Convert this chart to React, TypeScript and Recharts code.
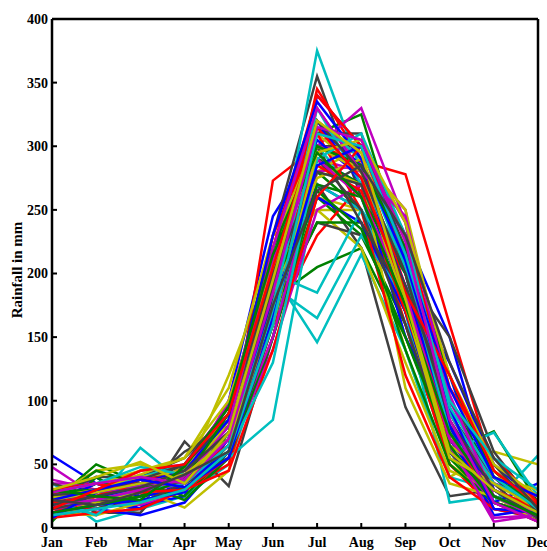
import { LineChart, Line, XAxis, YAxis } from "recharts";

const months = ["Jan", "Feb", "Mar", "Apr", "May", "Jun", "Jul", "Aug", "Sep", "Oct", "Nov", "Dec"];
const yTicks = [0, 50, 100, 150, 200, 250, 300, 350, 400];

// one row per year, grouped by the colour it got in the plot
const blueRuns = [
  [57, 35, 25, 30, 70, 180, 290, 270, 180, 70, 20, 10],
  [15, 40, 18, 25, 100, 245, 300, 280, 200, 120, 20, 5],
  [10, 30, 15, 40, 90, 210, 340, 300, 230, 150, 30, 8],
  [20, 15, 10, 20, 60, 170, 270, 250, 190, 130, 50, 20],
  [25, 20, 15, 35, 75, 190, 320, 270, 150, 80, 10, 15],
  [30, 25, 30, 35, 60, 180, 260, 240, 170, 70, 20, 35],
  [18, 35, 25, 30, 60, 185, 315, 285, 170, 60, 25, 10],
  [12, 18, 22, 28, 70, 200, 305, 275, 190, 80, 30, 10],
  [8, 28, 35, 45, 85, 230, 335, 290, 210, 95, 15, 12],
  [22, 30, 38, 32, 55, 165, 285, 300, 215, 110, 40, 25],
];
const greenRuns = [
  [20, 50, 35, 40, 60, 160, 280, 250, 170, 60, 15, 8],
  [15, 20, 40, 30, 75, 180, 205, 220, 150, 60, 76, 20],
  [18, 35, 30, 45, 80, 200, 310, 325, 210, 100, 40, 12],
  [25, 30, 35, 40, 55, 150, 260, 230, 160, 55, 20, 10],
  [5, 40, 20, 30, 65, 170, 240, 240, 140, 50, 20, 8],
  [20, 45, 35, 25, 60, 160, 290, 270, 190, 80, 45, 15],
  [22, 28, 35, 22, 55, 150, 270, 260, 200, 80, 30, 12],
  [28, 30, 32, 35, 75, 190, 265, 235, 150, 65, 20, 10],
  [12, 18, 25, 38, 90, 220, 300, 285, 220, 120, 40, 18],
  [30, 25, 22, 48, 95, 215, 295, 260, 175, 75, 25, 10],
];
const redRuns = [
  [10, 20, 40, 35, 55, 200, 330, 280, 200, 80, 25, 12],
  [22, 18, 30, 35, 60, 273, 300, 288, 278, 160, 45, 15],
  [15, 25, 35, 40, 65, 190, 345, 290, 180, 70, 20, 10],
  [12, 25, 20, 30, 50, 160, 230, 270, 160, 50, 15, 8],
  [28, 22, 40, 45, 85, 220, 340, 300, 210, 90, 35, 20],
  [18, 15, 25, 40, 70, 230, 310, 250, 120, 40, 15, 12],
  [8, 12, 15, 30, 55, 175, 320, 290, 190, 75, 20, 5],
  [20, 25, 38, 42, 65, 200, 285, 265, 170, 70, 30, 15],
  [30, 35, 28, 30, 45, 140, 260, 300, 230, 110, 55, 20],
  [15, 30, 45, 50, 90, 205, 315, 275, 185, 120, 45, 18],
];
const cyanRuns = [
  [30, 5, 15, 25, 50, 150, 300, 260, 160, 50, 20, 57],
  [12, 20, 63, 35, 70, 200, 146, 215, 140, 40, 30, 10],
  [15, 20, 30, 40, 70, 190, 375, 280, 200, 80, 30, 10],
  [35, 15, 25, 30, 55, 85, 270, 250, 170, 20, 25, 15],
  [20, 25, 35, 45, 75, 190, 165, 230, 180, 60, 75, 25],
  [25, 30, 40, 50, 85, 200, 185, 250, 200, 70, 30, 15],
  [22, 10, 35, 40, 70, 170, 330, 270, 210, 90, 35, 20],
  [18, 22, 30, 35, 65, 175, 320, 290, 205, 75, 25, 8],
  [28, 35, 48, 42, 60, 130, 290, 310, 230, 95, 40, 15],
  [10, 15, 20, 30, 60, 160, 310, 300, 215, 100, 55, 30],
];
const magentaRuns = [
  [48, 25, 30, 40, 80, 190, 310, 300, 240, 65, 5, 10],
  [35, 35, 25, 45, 75, 170, 290, 280, 230, 80, 15, 10],
  [20, 25, 40, 40, 70, 180, 300, 330, 240, 90, 30, 10],
  [25, 30, 45, 50, 95, 200, 320, 290, 250, 70, 40, 15],
  [15, 20, 18, 30, 60, 140, 250, 270, 200, 60, 20, 10],
  [38, 30, 35, 45, 75, 160, 300, 295, 230, 100, 35, 25],
  [30, 35, 28, 35, 65, 150, 280, 285, 220, 65, 8, 10],
  [22, 28, 33, 40, 100, 210, 290, 260, 185, 70, 30, 10],
  [18, 22, 30, 38, 80, 220, 330, 280, 245, 105, 25, 8],
  [28, 35, 40, 35, 70, 185, 315, 305, 225, 85, 20, 5],
];
const yellowRuns = [
  [25, 45, 50, 40, 120, 210, 250, 250, 140, 40, 60, 50],
  [20, 15, 30, 16, 45, 190, 260, 250, 170, 50, 25, 15],
  [8, 20, 25, 50, 85, 175, 280, 300, 200, 70, 35, 20],
  [18, 35, 45, 55, 110, 230, 250, 220, 130, 45, 30, 10],
  [12, 10, 20, 30, 85, 220, 310, 280, 110, 35, 25, 5],
  [15, 25, 40, 45, 90, 200, 285, 270, 190, 65, 40, 30],
  [10, 20, 28, 45, 80, 185, 275, 290, 250, 110, 45, 20],
  [24, 30, 42, 55, 100, 205, 300, 280, 175, 55, 35, 15],
  [22, 28, 35, 42, 70, 160, 295, 305, 240, 120, 50, 25],
  [30, 40, 52, 35, 75, 195, 320, 295, 180, 60, 30, 12],
];
const greyRuns = [
  [28, 20, 15, 68, 33, 150, 270, 220, 95, 25, 30, 5],
  [25, 40, 40, 55, 90, 230, 355, 260, 170, 60, 25, 8],
  [30, 12, 12, 50, 70, 200, 310, 310, 200, 150, 60, 15],
  [20, 35, 30, 60, 80, 170, 240, 230, 180, 70, 35, 5],
  [35, 25, 35, 50, 95, 210, 300, 300, 220, 60, 25, 12],
  [10, 15, 25, 40, 65, 180, 300, 240, 180, 90, 40, 10],
  [15, 22, 20, 35, 55, 160, 290, 250, 160, 60, 25, 10],
  [26, 28, 38, 50, 85, 200, 280, 270, 190, 100, 50, 12],
  [18, 25, 32, 45, 75, 190, 320, 280, 200, 85, 30, 8],
  [22, 18, 28, 42, 60, 175, 265, 285, 230, 130, 55, 15],
];

// matlab's old default line colour order
const palette = ["#0000ff", "#008000", "#ff0000", "#00bfbf", "#bf00bf", "#bfbf00", "#404040"];
const groups = [blueRuns, greenRuns, redRuns, cyanRuns, magentaRuns, yellowRuns, greyRuns];

const series: { key: string; color: string; values: number[] }[] = [];
for (let r = 0; r < blueRuns.length; r++) {
  groups.forEach((g, c) => {
    series.push({ key: `y${r * 7 + c}`, color: palette[c], values: g[r] });
  });
}

const data = months.map((month, i) => {
  const row: Record<string, string | number> = { month };
  series.forEach((s) => {
    row[s.key] = s.values[i];
  });
  return row;
});

const font = { fontFamily: "'Liberation Serif', 'Times New Roman', serif", fontWeight: "bold" as const };
const tickStyle = { ...font, fontSize: 14, fill: "#000" };
const axisLine = { stroke: "#000", strokeWidth: 2.5 };
const tickLine = { stroke: "#000", strokeWidth: 2 };

export default function App() {
  return (
    <div style={{ position: "absolute", left: 0, top: 0, width: 547, height: 551, background: "#fff", overflow: "hidden" }}>
      <div
        style={{
          ...font,
          position: "absolute",
          left: 17,
          top: 270,
          fontSize: 15,
          color: "#000",
          whiteSpace: "nowrap",
          transform: "translate(-50%, -50%) rotate(-90deg)",
        }}
      >
        Rainfall in mm
      </div>
      <LineChart width={547} height={551} data={data} margin={{ top: 18, right: 8, bottom: 0, left: 0 }}>
        <XAxis
          dataKey="month"
          height={23}
          axisLine={axisLine}
          tickLine={tickLine}
          tickSize={-5}
          tickMargin={14}
          tick={tickStyle}
          interval={0}
        />
        <XAxis
          xAxisId="top"
          dataKey="month"
          orientation="top"
          height={1}
          axisLine={axisLine}
          tickLine={tickLine}
          tickSize={-5}
          tick={false}
          interval={0}
        />
        <YAxis
          type="number"
          domain={[0, 400]}
          ticks={yTicks}
          width={52}
          axisLine={axisLine}
          tickLine={tickLine}
          tickSize={-5}
          tickMargin={9}
          tick={tickStyle}
          interval={0}
        />
        <YAxis
          yAxisId="right"
          orientation="right"
          type="number"
          domain={[0, 400]}
          ticks={yTicks}
          width={1}
          axisLine={axisLine}
          tickLine={tickLine}
          tickSize={-5}
          tick={false}
          interval={0}
        />
        {series.map((s) => (
          <Line
            key={s.key}
            type="linear"
            dataKey={s.key}
            stroke={s.color}
            strokeWidth={2.5}
            dot={false}
            activeDot={false}
            isAnimationActive={false}
          />
        ))}
      </LineChart>
    </div>
  );
}
